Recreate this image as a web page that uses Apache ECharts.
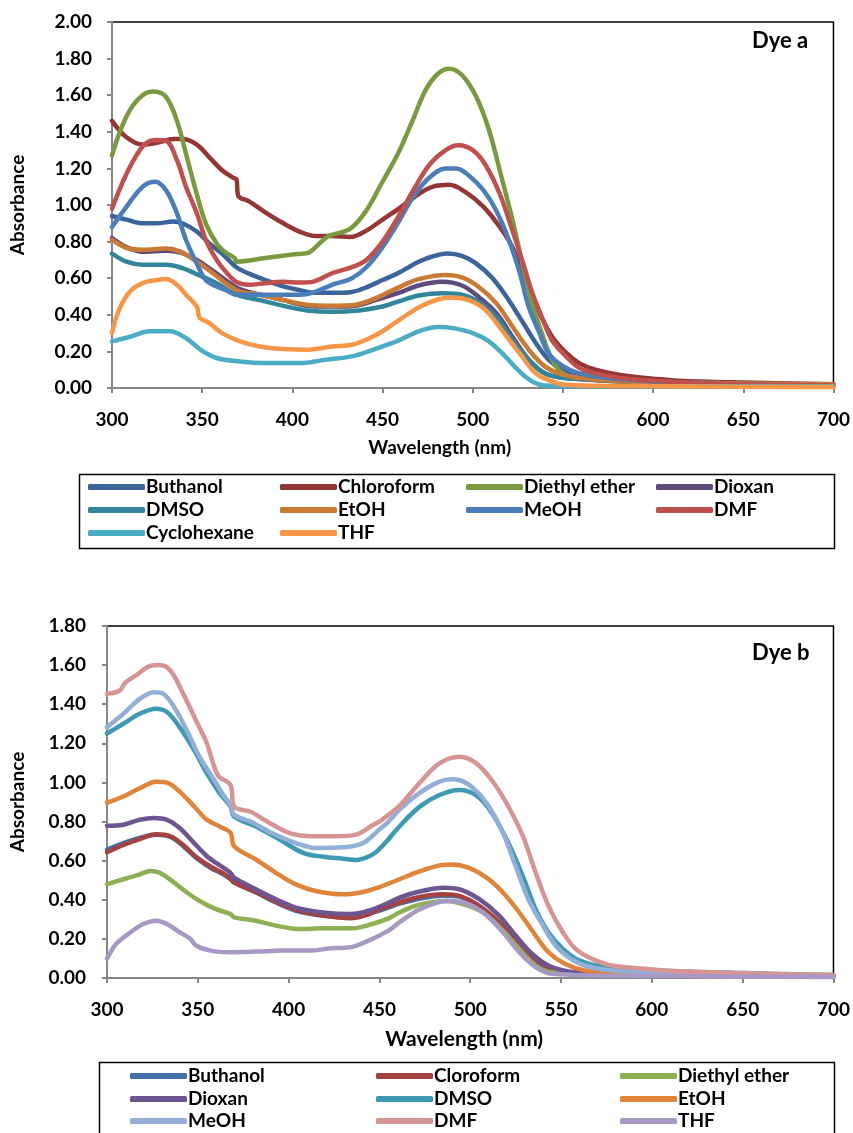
<!DOCTYPE html>
<html>
<head>
<meta charset="utf-8">
<script src="https://cdn.jsdelivr.net/npm/echarts@6/dist/echarts.min.js"></script>
<style>
  html, body { margin: 0; padding: 0; background: #fff; }
  #chart { width: 853px; height: 1133px; }
</style>
</head>
<body>
<div id="chart"></div>
<script>
// ---- Dye a: absorbance readings [wavelength nm, absorbance]
const namesA = ['Buthanol', 'Chloroform', 'Diethyl ether', 'Dioxan', 'DMSO', 'EtOH', 'MeOH', 'DMF', 'Cyclohexane', 'THF'];
const colorsA = ['#3A649A', '#943634', '#7A9A3F', '#5F4A7E', '#31869B', '#C97B33', '#4A7EBB', '#C0504D', '#4BACC6', '#F79646'];

const butA = [[300,0.94],[308,0.92],[317,0.90],[325,0.90],[334,0.91],[339,0.90],[347,0.855],[354,0.79],[361,0.735],[369,0.66],[376,0.625],[385,0.59],[395,0.555],[404,0.535],[413,0.52],[422,0.52],[433,0.525],[441,0.55],[450,0.59],[459,0.63],[470,0.69],[478,0.72],[486,0.735],[494,0.722],[502,0.68],[511,0.60],[520,0.48],[528,0.355],[535,0.245],[542,0.155],[550,0.10],[559,0.078],[578,0.055],[600,0.04],[650,0.025],[700,0.015]];
const chlA = [[300,1.46],[308,1.37],[317,1.33],[325,1.34],[334,1.36],[339,1.36],[347,1.33],[354,1.26],[361,1.19],[367,1.15],[369,1.14],[370,1.05],[376,1.02],[385,0.96],[395,0.90],[404,0.855],[413,0.83],[422,0.83],[432,0.825],[441,0.86],[450,0.92],[459,0.98],[470,1.06],[478,1.10],[487,1.11],[496,1.07],[506,0.99],[515,0.88],[522,0.77],[530,0.57],[537,0.41],[544,0.28],[552,0.19],[559,0.136],[568,0.10],[581,0.073],[600,0.05],[614,0.04],[650,0.03],[700,0.02]];
const detA = [[300,1.27],[304,1.39],[310,1.52],[317,1.60],[323,1.62],[330,1.59],[336,1.46],[341,1.28],[347,1.06],[352,0.90],[358,0.79],[363,0.74],[368,0.71],[369,0.69],[385,0.71],[400,0.73],[409,0.74],[415,0.79],[420,0.83],[432,0.87],[441,0.97],[449,1.11],[459,1.29],[467,1.47],[474,1.63],[481,1.72],[487,1.745],[494,1.71],[502,1.59],[509,1.41],[516,1.15],[522,0.92],[528,0.66],[533,0.46],[539,0.28],[544,0.155],[550,0.08],[560,0.05],[600,0.03],[700,0.01]];
const dioxA = [[300,0.82],[308,0.77],[317,0.745],[330,0.75],[338,0.74],[347,0.70],[356,0.64],[363,0.59],[371,0.54],[382,0.51],[395,0.48],[408,0.45],[422,0.445],[435,0.45],[446,0.48],[459,0.52],[470,0.56],[483,0.58],[494,0.56],[503,0.50],[513,0.41],[522,0.28],[531,0.155],[540,0.08],[551,0.055],[600,0.03],[700,0.015]];
const dmsoA = [[300,0.735],[308,0.69],[317,0.673],[330,0.673],[339,0.655],[348,0.618],[358,0.573],[369,0.51],[382,0.48],[395,0.449],[408,0.424],[422,0.416],[437,0.424],[450,0.445],[459,0.473],[470,0.505],[483,0.518],[494,0.51],[503,0.473],[513,0.39],[522,0.264],[531,0.155],[540,0.08],[551,0.055],[600,0.035],[700,0.015]];
const etohA = [[300,0.81],[308,0.765],[317,0.755],[330,0.762],[338,0.745],[347,0.69],[356,0.627],[363,0.573],[371,0.527],[382,0.51],[395,0.48],[408,0.455],[422,0.449],[435,0.455],[446,0.49],[459,0.55],[470,0.595],[485,0.618],[494,0.605],[503,0.555],[513,0.464],[522,0.336],[531,0.21],[540,0.118],[550,0.073],[563,0.05],[587,0.036],[650,0.025],[700,0.02]];
const meohA = [[300,0.88],[308,0.99],[317,1.10],[324,1.127],[330,1.08],[336,0.955],[341,0.81],[347,0.68],[352,0.59],[358,0.555],[363,0.536],[369,0.51],[385,0.51],[404,0.51],[411,0.52],[422,0.564],[433,0.60],[441,0.66],[450,0.77],[459,0.91],[467,1.045],[476,1.15],[485,1.20],[491,1.20],[498,1.16],[506,1.08],[513,0.97],[520,0.81],[526,0.63],[531,0.445],[537,0.30],[542,0.19],[550,0.12],[559,0.08],[574,0.055],[600,0.035],[650,0.02],[700,0.01]];
const dmfA = [[300,0.98],[308,1.17],[317,1.32],[324,1.355],[330,1.35],[336,1.245],[341,1.10],[347,0.955],[352,0.81],[358,0.70],[363,0.636],[369,0.58],[376,0.564],[385,0.573],[395,0.58],[404,0.576],[411,0.58],[422,0.627],[433,0.66],[441,0.70],[450,0.80],[459,0.94],[467,1.08],[476,1.22],[485,1.30],[492,1.327],[500,1.30],[507,1.22],[515,1.06],[522,0.86],[528,0.68],[533,0.52],[539,0.37],[544,0.26],[552,0.17],[559,0.11],[568,0.08],[581,0.055],[600,0.04],[650,0.02],[700,0.015]];
const cycA = [[300,0.255],[310,0.28],[321,0.31],[332,0.31],[341,0.273],[349,0.21],[358,0.164],[371,0.145],[385,0.136],[404,0.136],[419,0.155],[433,0.173],[445,0.21],[459,0.26],[470,0.31],[481,0.333],[489,0.327],[500,0.30],[509,0.255],[518,0.173],[526,0.09],[533,0.036],[540,0.013],[560,0.01],[700,0.01]];
const thfA = [[300,0.30],[304,0.43],[310,0.527],[317,0.573],[325,0.59],[330,0.595],[336,0.564],[341,0.51],[347,0.445],[348,0.40],[349,0.38],[354,0.355],[361,0.30],[371,0.255],[382,0.227],[395,0.213],[408,0.209],[422,0.227],[433,0.236],[441,0.264],[450,0.31],[459,0.37],[470,0.44],[481,0.485],[489,0.495],[498,0.48],[507,0.427],[516,0.318],[526,0.19],[535,0.08],[544,0.036],[551,0.018],[600,0.01],[700,0.005]];
const dataA = [butA, chlA, detA, dioxA, dmsoA, etohA, meohA, dmfA, cycA, thfA];

// ---- Dye b
const namesB = ['Buthanol', 'Cloroform', 'Diethyl ether', 'Dioxan', 'DMSO', 'EtOH', 'MeOH', 'DMF', 'THF'];
const colorsB = ['#4470A8', '#A5423F', '#8DB052', '#6D5592', '#3E9AB2', '#E0843A', '#92AFD7', '#D59592', '#A898C4'];

const butB = [[300,0.657],[309,0.69],[318,0.716],[327,0.733],[335,0.721],[342,0.674],[349,0.615],[357,0.564],[364,0.53],[368,0.505],[370,0.488],[382,0.437],[393,0.386],[404,0.344],[419,0.318],[434,0.31],[444,0.327],[455,0.36],[461,0.38],[472,0.405],[485,0.42],[494,0.415],[505,0.365],[516,0.28],[525,0.185],[534,0.10],[543,0.05],[554,0.028],[600,0.018],[700,0.01]];
const clB = [[300,0.643],[309,0.68],[318,0.71],[327,0.735],[335,0.725],[342,0.68],[349,0.62],[357,0.57],[364,0.535],[368,0.51],[370,0.49],[382,0.44],[393,0.39],[404,0.35],[419,0.32],[434,0.305],[444,0.325],[450,0.352],[461,0.386],[472,0.415],[485,0.428],[494,0.42],[505,0.369],[516,0.284],[525,0.19],[534,0.107],[543,0.056],[554,0.03],[600,0.02],[700,0.01]];
const detB = [[300,0.479],[309,0.505],[318,0.53],[324,0.547],[329,0.538],[337,0.488],[344,0.437],[351,0.394],[360,0.352],[368,0.327],[370,0.31],[382,0.293],[393,0.268],[406,0.25],[419,0.254],[435,0.254],[446,0.276],[455,0.305],[461,0.335],[472,0.375],[487,0.394],[496,0.378],[507,0.335],[518,0.242],[527,0.149],[536,0.064],[545,0.03],[600,0.015],[700,0.008]];
const dioxB = [[300,0.779],[309,0.784],[318,0.809],[326,0.818],[333,0.809],[340,0.767],[348,0.69],[355,0.623],[364,0.564],[368,0.538],[370,0.513],[382,0.454],[393,0.403],[404,0.36],[419,0.335],[434,0.327],[444,0.344],[455,0.385],[461,0.411],[472,0.442],[485,0.462],[494,0.454],[505,0.403],[516,0.318],[525,0.217],[534,0.124],[543,0.064],[554,0.034],[569,0.022],[600,0.018],[700,0.01]];
const dmsoB = [[300,1.25],[309,1.30],[318,1.351],[327,1.377],[333,1.36],[340,1.283],[348,1.165],[355,1.046],[362,0.945],[368,0.877],[370,0.826],[382,0.775],[395,0.708],[408,0.64],[419,0.62],[430,0.61],[437,0.603],[446,0.63],[450,0.66],[455,0.71],[461,0.775],[472,0.875],[483,0.936],[494,0.962],[503,0.936],[512,0.843],[521,0.69],[529,0.52],[536,0.352],[543,0.234],[551,0.149],[560,0.09],[574,0.056],[600,0.04],[650,0.025],[700,0.015]];
const etohB = [[300,0.897],[309,0.928],[318,0.97],[327,1.004],[333,0.999],[340,0.953],[348,0.877],[355,0.809],[362,0.775],[368,0.742],[370,0.674],[382,0.606],[393,0.538],[404,0.479],[415,0.445],[430,0.428],[441,0.44],[450,0.465],[461,0.505],[472,0.545],[483,0.576],[490,0.581],[499,0.564],[509,0.513],[518,0.437],[527,0.335],[536,0.217],[543,0.132],[552,0.073],[563,0.039],[578,0.027],[600,0.02],[700,0.012]];
const meohB = [[300,1.283],[309,1.351],[318,1.427],[326,1.461],[331,1.453],[337,1.385],[344,1.266],[351,1.131],[359,1.013],[364,0.936],[368,0.885],[370,0.835],[379,0.80],[391,0.74],[404,0.69],[415,0.665],[430,0.668],[441,0.69],[450,0.76],[455,0.80],[461,0.86],[472,0.945],[483,1.004],[490,1.016],[499,0.99],[509,0.894],[518,0.742],[525,0.572],[532,0.403],[540,0.268],[547,0.166],[554,0.107],[563,0.064],[578,0.039],[600,0.03],[650,0.02],[700,0.012]];
const dmfB = [[300,1.453],[307,1.47],[310,1.51],[317,1.554],[324,1.597],[329,1.60],[335,1.571],[342,1.453],[349,1.317],[355,1.199],[361,1.038],[368,0.987],[370,0.877],[379,0.85],[390,0.79],[401,0.74],[412,0.725],[426,0.725],[437,0.733],[446,0.78],[450,0.80],[455,0.835],[461,0.88],[472,0.996],[483,1.097],[494,1.131],[503,1.10],[512,1.01],[521,0.877],[529,0.725],[536,0.54],[543,0.37],[551,0.234],[558,0.149],[567,0.098],[578,0.064],[600,0.044],[615,0.034],[650,0.025],[700,0.015]];
const thfB = [[300,0.098],[305,0.174],[313,0.234],[320,0.276],[327,0.293],[333,0.276],[340,0.234],[346,0.20],[349,0.166],[357,0.14],[368,0.132],[382,0.135],[397,0.14],[412,0.14],[423,0.152],[434,0.157],[444,0.191],[455,0.242],[461,0.284],[472,0.35],[487,0.394],[496,0.386],[507,0.335],[518,0.234],[527,0.132],[536,0.056],[545,0.022],[600,0.01],[700,0.005]];
const dataB = [butB, clB, detB, dioxB, dmsoB, etohB, meohB, dmfB, thfB];

const FONT = 'Lato, "Open Sans", sans-serif';

const xAxisOf = (gi, nameGap, nameSize, pad) => ({
  gridIndex: gi, type: 'value', min: 300, max: 700, interval: 50,
  name: 'Wavelength (nm)', nameLocation: 'middle', nameGap: nameGap,
  nameTextStyle: { fontFamily: FONT, fontWeight: 'bold', fontSize: nameSize, color: '#000', padding: pad },
  axisLine: { show: true, lineStyle: { color: '#868686', width: 2 } },
  axisTick: { show: true, inside: false, length: 5, lineStyle: { color: '#868686', width: 2 } },
  axisLabel: { margin: 22, fontFamily: FONT, fontWeight: 'bold', fontSize: 19, color: '#000' },
  splitLine: { show: false }
});

const yAxisOf = (gi, max, nameGap, margin) => ({
  gridIndex: gi, type: 'value', min: 0, max: max, interval: 0.2,
  name: 'Absorbance', nameLocation: 'middle', nameGap: nameGap,
  nameTextStyle: { fontFamily: FONT, fontWeight: 'bold', fontSize: 19, color: '#000' },
  axisLine: { show: true, lineStyle: { color: '#868686', width: 2 } },
  axisTick: { show: true, inside: false, length: 5, lineStyle: { color: '#868686', width: 2 } },
  axisLabel: { margin: margin, fontFamily: FONT, fontWeight: 'bold', fontSize: 19, color: '#000',
    formatter: v => v.toFixed(2) },
  splitLine: { show: false }
});

const series = [];
namesA.forEach((n, i) => series.push({
  name: n, type: 'line', xAxisIndex: 0, yAxisIndex: 0, data: dataA[i],
  showSymbol: false, symbol: 'none', smooth: 0.35,
  color: colorsA[i], lineStyle: { width: 4.5, color: colorsA[i], cap: 'round', join: 'round' }
}));
namesB.forEach((n, i) => series.push({
  name: n + ' ', type: 'line', xAxisIndex: 1, yAxisIndex: 1, data: dataB[i],
  showSymbol: false, symbol: 'none', smooth: 0.35,
  color: colorsB[i], lineStyle: { width: 4.5, color: colorsB[i], cap: 'round', join: 'round' }
}));

// one legend component per entry so columns line up like the original
const legendOf = (name, left, top) => ({
  data: [name], left: left, top: top, padding: 0, selectedMode: false,
  icon: 'roundRect', itemWidth: 57, itemHeight: 6, itemGap: 0,
  textStyle: { fontFamily: FONT, fontWeight: 'bold', fontSize: 19, color: '#000', padding: [0, 0, 0, -4], lineHeight: 20 }
});
const legends = [];
const colA = [88, 280, 466, 656], rowA = [477, 500, 523];
namesA.forEach((n, i) => legends.push(legendOf(n, colA[i % 4], rowA[Math.floor(i / 4)])));
const colB = [130, 376, 620], rowB = [1066, 1089, 1111];
namesB.forEach((n, i) => legends.push(legendOf(n + ' ', colB[i % 3], rowB[Math.floor(i / 3)])));

const chart = echarts.init(document.getElementById('chart'), null, { renderer: 'canvas' });
chart.setOption({
  backgroundColor: '#fff',
  animation: false,
  grid: [
    { left: 112, top: 22, width: 724, height: 366, show: true, borderColor: '#000', borderWidth: 1.5, backgroundColor: 'transparent' },
    { left: 107, top: 626, width: 729, height: 352, show: true, borderColor: '#000', borderWidth: 1.5, backgroundColor: 'transparent' }
  ],
  xAxis: [xAxisOf(0, 50, 19, [0, 66, 0, 0]), xAxisOf(1, 51, 21, [0, 12, 0, 0])],
  yAxis: [yAxisOf(0, 2, 85, 20), yAxisOf(1, 1.8, 80, 21)],
  legend: legends,
  graphic: [
    { type: 'rect', left: 77, top: 472, shape: { width: 755, height: 74 }, style: { fill: 'none', stroke: '#000', lineWidth: 1.5 }, silent: true },
    { type: 'rect', left: 97, top: 1060, shape: { width: 735, height: 80 }, style: { fill: 'none', stroke: '#000', lineWidth: 1.5 }, silent: true },
    { type: 'text', left: 752, top: 30, style: { text: 'Dye a', font: 'bold 22px ' + FONT, fill: '#000' } },
    { type: 'text', left: 752, top: 642, style: { text: 'Dye b', font: 'bold 22px ' + FONT, fill: '#000' } }
  ],
  series: series
});
</script>
</body>
</html>
